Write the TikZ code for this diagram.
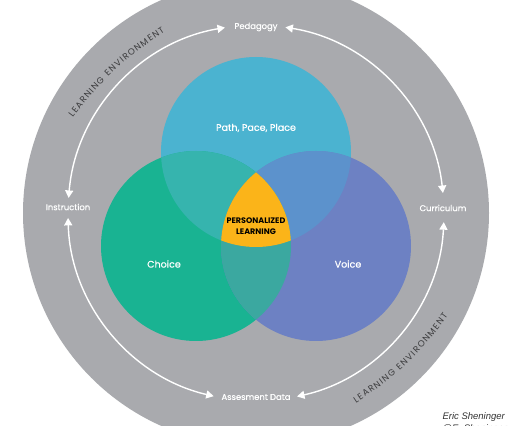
\documentclass[tikz,border=0pt]{standalone}
\usepackage{fontspec}
\setmainfont{Poppins}
\newfontfamily\semifamily{Poppins}[FakeBold=0.7]
\newfontfamily\sigfamily{Liberation Sans}
\usetikzlibrary{arrows.meta,decorations.text}
\definecolor{RingGrey}{HTML}{A9AAAE}
\definecolor{PathBlue}{HTML}{4BB3D0}
\definecolor{ChoiceGreen}{HTML}{19B392}
\definecolor{VoiceBlue}{HTML}{6D81C3}
\definecolor{PathChoice}{HTML}{36B4AE}
\definecolor{PathVoice}{HTML}{5C92CC}
\definecolor{ChoiceVoice}{HTML}{3BA8A0}
\definecolor{CoreGold}{HTML}{FBB419}
\definecolor{EnvText}{HTML}{3A3A3C}
\definecolor{SigText}{HTML}{333333}
\newcommand\envfont{\fontsize{8.8}{10}\selectfont}
\begin{document}
\begin{tikzpicture}[x=1pt,y=1pt,>={Triangle[length=7.5pt,width=8pt]},
  flow/.style={<->,white,line width=1.4pt},
  lbl/.style={text=white,font=\semifamily\fontsize{8.4}{9}\selectfont},
  ctext/.style={text=white,font=\semifamily\fontsize{9.5}{11}\selectfont},
  coretext/.style={text=black,align=center,font=\fontsize{8}{11.5}\selectfont\bfseries},
  sig/.style={text=SigText,font=\sigfamily\itshape\fontsize{9.5}{11}\selectfont},
  envpath/.style={decorate,decoration={text along path,text={|\envfont|LEARNING ENVIRONMENT},text align=fit to path,text color=EnvText}}]
\useasboundingbox (0,0) rectangle (512,426);\clip (0,0) rectangle (512,426);
\fill[white] (0,0) rectangle (512,426);
\coordinate (C) at (256,213);\coordinate (Ptop) at (256,274);\coordinate (Pchoice) at (196,180);\coordinate (Pvoice) at (316,180);
\fill[RingGrey] (C) circle[radius=233pt];
\fill[PathBlue] (Ptop) circle[radius=95pt];\fill[ChoiceGreen] (Pchoice) circle[radius=95pt];\fill[VoiceBlue] (Pvoice) circle[radius=95pt];
\begin{scope}\clip (Ptop) circle[radius=95pt];\fill[PathChoice] (Pchoice) circle[radius=95pt];\fill[PathVoice] (Pvoice) circle[radius=95pt];\end{scope}
\begin{scope}\clip (Pchoice) circle[radius=95pt];\fill[ChoiceVoice] (Pvoice) circle[radius=95pt];\clip (Ptop) circle[radius=95pt];\fill[CoreGold] (Pvoice) circle[radius=95pt];\end{scope}
\draw[flow] ([shift={(99.5:188pt)}]C) arc[start angle=99.5,end angle=175.4,radius=188pt];
\draw[flow] ([shift={(81:188pt)}]C) arc[start angle=81,end angle=6.1,radius=188pt];
\draw[flow] ([shift={(181.5:188pt)}]C) arc[start angle=181.5,end angle=257,radius=188pt];
\draw[flow] ([shift={(282.6:188pt)}]C) arc[start angle=282.6,end angle=357.2,radius=188pt];
\node[lbl] (ped) at (256,399) {Pedagogy};\node[lbl] (ins) at (68,219) {Instruction};
\node[lbl] (cur) at (443,218) {Curriculum};\node[lbl] (ass) at (256,29) {Assesment Data};
\path[envpath] (73,308) to[bend left=10] (165,394);\path[envpath] (356,23) to[bend right=10] (448,110);
\node[ctext] (ppp) at (256,298) {Path, Pace, Place};\node[ctext] (cho) at (164,162) {Choice};\node[ctext] (voi) at (348,162) {Voice};
\node[coretext] (core) at (256,200) {PERSONALIZED\\LEARNING};
\node[sig,anchor=base west] (sign) at (439,6) {Eric Sheninger};\node[sig,anchor=base west] (handle) at ([yshift=-11.5pt]sign.base west) {@E\_Sheninger};
\end{tikzpicture}
\end{document}
